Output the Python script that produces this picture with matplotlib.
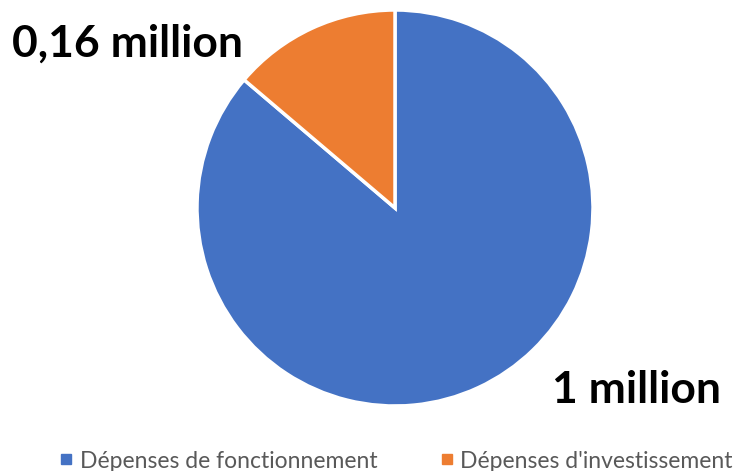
import matplotlib
matplotlib.use('Agg')
import matplotlib.pyplot as plt
from matplotlib.lines import Line2D

categories = ['Dépenses de fonctionnement', "Dépenses d'investissement"]
values = [1.0, 0.16]
value_labels = ['1 million', '0,16 million']
colors = ['#4472C4', '#ED7D31']

W, H = 742, 471
fig = plt.figure(figsize=(W / 100, H / 100), dpi=100)

# pie centre ~ (395, 208) px, radius ~198 px
cx, cy, r = 395, 208, 198
ax = fig.add_axes([(cx - r) / W, (H - cy - r) / H, 2 * r / W, 2 * r / H])
ax.pie(values, colors=colors, startangle=90, counterclock=False,
       wedgeprops={'edgecolor': 'white', 'linewidth': 2.5})
ax.set_xlim(-1, 1)
ax.set_ylim(-1, 1)
ax.set_aspect('equal')

fig.text(12 / W, 1 - 44 / H, value_labels[1], fontsize=32, fontweight='bold',
         family='Lato', ha='left', va='center', color='black')
fig.text(552 / W, 1 - 390 / H, value_labels[0], fontsize=32, fontweight='bold',
         family='Lato', ha='left', va='center', color='black')

handles = [Line2D([], [], marker='s', linestyle='none', color=c, markersize=7.5)
           for c in colors]
fig.legend(handles, categories, loc='center', bbox_to_anchor=(395 / W, 1 - 461 / H),
           ncol=2, frameon=False, labelcolor='#595959',
           prop={'family': 'Lato', 'size': 16.5}, handletextpad=0.2,
           columnspacing=2.6, handlelength=0.8, borderpad=0)

fig.savefig('out.png', dpi=100)
